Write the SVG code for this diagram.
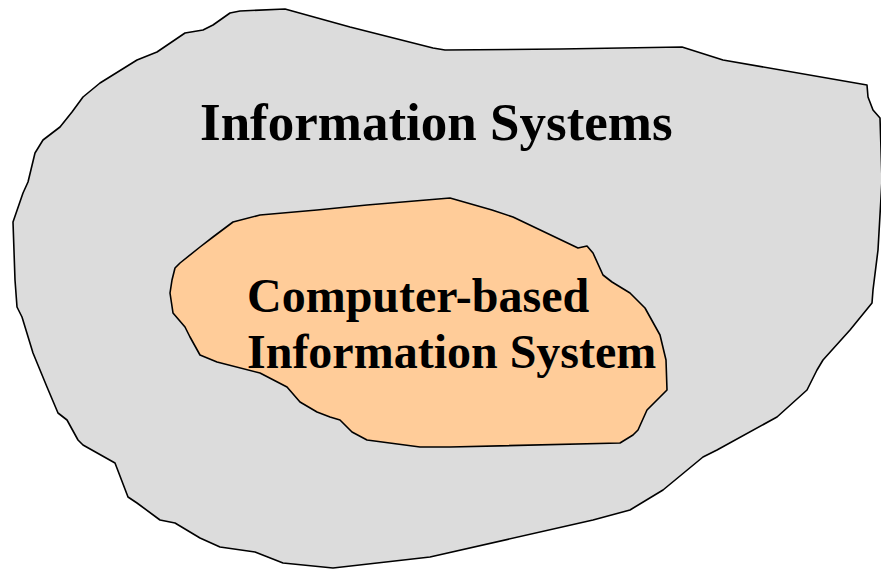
<svg xmlns="http://www.w3.org/2000/svg" width="881" height="569" viewBox="0 0 881 569">
<style>
.blob{stroke:#000;stroke-width:1.6;stroke-linejoin:round}
.lbl{font-family:"Liberation Serif","Times New Roman",serif;font-weight:bold;fill:#000}
</style>
<rect width="881" height="569" fill="#fff"/>
<g id="information-systems">
<path class="blob" fill="#dcdcdc" d="M240,11 L285,9 L350,27 L433,48 L445,50 L560,49 L682,47 L723,60 L867,85 L868,97 L873,110 L880,118 L882,180 L878,250 L873,290 L872,303 L850,330 L823,360 L817,370 L807,390 L777,417 L717,450 L703,457 L663,490 L630,510 L593,520 L430,557 L333,568 L283,563 L255,552 L220,547 L200,538 L175,523 L160,520 L137,503 L128,497 L115,463 L83,445 L78,440 L67,420 L58,413 L47,387 L33,353 L22,317 L17,307 L15,280 L13,222 L23,193 L28,182 L35,153 L43,140 L60,127 L72,112 L83,97 L100,83 L137,60 L157,52 L185,33 L203,30 L213,25 L230,13 Z"/>
<text class="lbl" x="200" y="140" font-size="53">Information Systems</text>
</g>
<g id="computer-based-is">
<path class="blob" fill="#ffcc99" d="M180,263 L200,247 L213,237 L233,222 L260,215 L317,210 L367,205 L450,198 L457,200 L492,210 L513,217 L578,248 L587,246 L593,253 L603,275 L612,282 L630,293 L645,308 L660,335 L666,360 L667,390 L660,397 L647,410 L638,430 L633,435 L620,443 L450,447 L420,447 L367,440 L352,432 L340,420 L330,417 L317,412 L300,402 L287,387 L260,373 L217,362 L200,355 L190,337 L185,327 L173,313 L170,293 L172,280 L175,268 Z"/>
<text class="lbl" x="247" y="312" font-size="48">Computer-based</text>
<text class="lbl" x="247" y="368" font-size="48">Information System</text>
</g>
<g id="connectors"></g>
</svg>
